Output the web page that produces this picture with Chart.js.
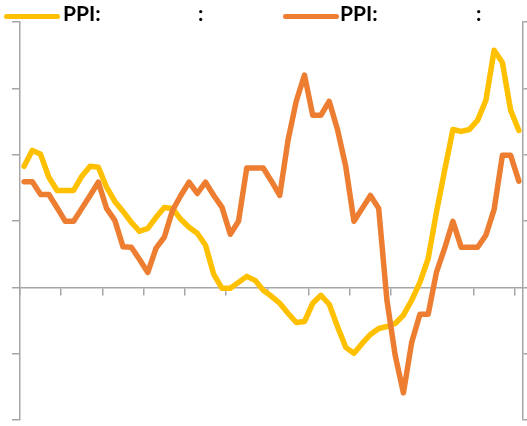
<!DOCTYPE html>
<html>
<head>
<meta charset="utf-8">
<script src="https://cdn.jsdelivr.net/npm/chart.js@4"></script>
<style>
    body { margin: 0; background: #fff; }
    #wrap { position: relative; width: 527px; height: 426px; }
    .key { position: absolute; top: 0; height: 30px; }
    .key .sw { position: absolute; top: 14px; width: 56px; height: 5px; border-radius: 3px; }
    .key .t { position: absolute; top: 1px; font: bold 21px Lato, sans-serif; line-height: 24px; color: #000; white-space: nowrap; }
</style>
</head>
<body>
<div id="wrap">
    <canvas id="chart" width="527" height="426"></canvas>
    <div class="key" style="left:4px">
        <span class="sw" style="left:0;background:#FFC000"></span>
        <span class="t" style="left:59px">PPI:</span>
        <span class="t" style="left:194px">:</span>
    </div>
    <div class="key" style="left:283px">
        <span class="sw" style="left:0;background:#ED7D31"></span>
        <span class="t" style="left:57px">PPI:</span>
        <span class="t" style="left:193px">:</span>
    </div>
</div>
<script>
// values (axis labels are not shown, units are grid steps of 2)
const yellowSeries = [
    3.65, 4.13, 4.01, 3.32, 2.92, 2.92, 2.92, 3.35, 3.65, 3.62,
    3.02, 2.59, 2.29, 1.96, 1.69, 1.78, 2.11, 2.41, 2.38, 2.05,
    1.81, 1.63, 1.27, 0.39, -0.03, -0.03, 0.15, 0.33, 0.21, -0.09,
    -0.27, -0.48, -0.78, -1.06, -1.03, -0.48, -0.24, -0.51, -1.18, -1.81,
    -1.99, -1.69, -1.42, -1.24, -1.18, -1.09, -0.84, -0.39, 0.15, 0.87,
    2.26, 3.53, 4.76, 4.70, 4.76, 5.04, 5.64, 7.15, 6.78, 5.34,
    4.73
];
const orangeSeries = [
    3.18, 3.18, 2.80, 2.80, 2.40, 1.99, 1.99, 2.38, 2.77, 3.17,
    2.38, 2.02, 1.22, 1.21, 0.84, 0.45, 1.18, 1.51, 2.32, 2.77,
    3.17, 2.83, 3.17, 2.77, 2.41, 1.60, 1.99, 3.60, 3.60, 3.60,
    3.20, 2.77, 4.43, 5.61, 6.40, 5.19, 5.19, 5.61, 4.76, 3.65,
    1.99, 2.38, 2.77, 2.38, -0.39, -2.05, -3.18, -1.66, -0.81, -0.81,
    0.45, 1.18, 1.99, 1.21, 1.21, 1.21, 1.57, 2.35, 3.98, 3.98,
    3.20
];
const periods = yellowSeries.map((_, i) => String(i + 1));
const yTicks = [-4, -2, 0, 2, 4, 6, 8];

const axisGray = "#a6a6a6";

const yAxis = (pos, tl) => ({
    position: pos,
    min: yTicks[0],
    max: yTicks[yTicks.length - 1],
    afterBuildTicks: (s) => { s.ticks = yTicks.map(v => ({ value: v })); },
    ticks: { display: false },
    grid: { drawOnChartArea: false, drawTicks: true, tickLength: tl, color: axisGray, lineWidth: 1.5 },
    border: { display: true, color: axisGray, width: 1.5 }
});

new Chart(document.getElementById("chart"), {
    type: "line",
    data: {
        labels: periods,
        datasets: [
            {
                label: "PPI: :",
                data: yellowSeries,
                yAxisID: "y",
                order: 1,
                borderColor: "#FFC000",
                borderWidth: 5.5,
                pointRadius: 0,
                tension: 0,
                borderJoinStyle: "round",
                borderCapStyle: "round"
            },
            {
                label: "PPI: :",
                data: orangeSeries,
                yAxisID: "y2",
                order: 0,
                borderColor: "#ED7D31",
                borderWidth: 5.5,
                pointRadius: 0,
                tension: 0,
                borderJoinStyle: "round",
                borderCapStyle: "round"
            }
        ]
    },
    options: {
        responsive: false,
        animation: false,
        devicePixelRatio: 1,
        layout: { padding: { left: 12, right: 0, top: 22, bottom: 6 } },
        plugins: { legend: { display: false }, tooltip: { enabled: false } },
        scales: {
            x: {
                type: "category",
                position: { y: 0 },
                offset: true,
                ticks: { display: false, autoSkip: false },
                grid: {
                    offset: true,
                    drawOnChartArea: false,
                    drawTicks: true,
                    tickLength: 7,
                    lineWidth: 1.5,
                    color: (ctx) => (ctx.index % 5 === 0 ? axisGray : "rgba(0,0,0,0)")
                },
                border: { display: true, color: axisGray, width: 1.5 }
            },
            y: yAxis("left", 8),
            y2: yAxis("right", 4)
        }
    }
});
</script>
</body>
</html>
